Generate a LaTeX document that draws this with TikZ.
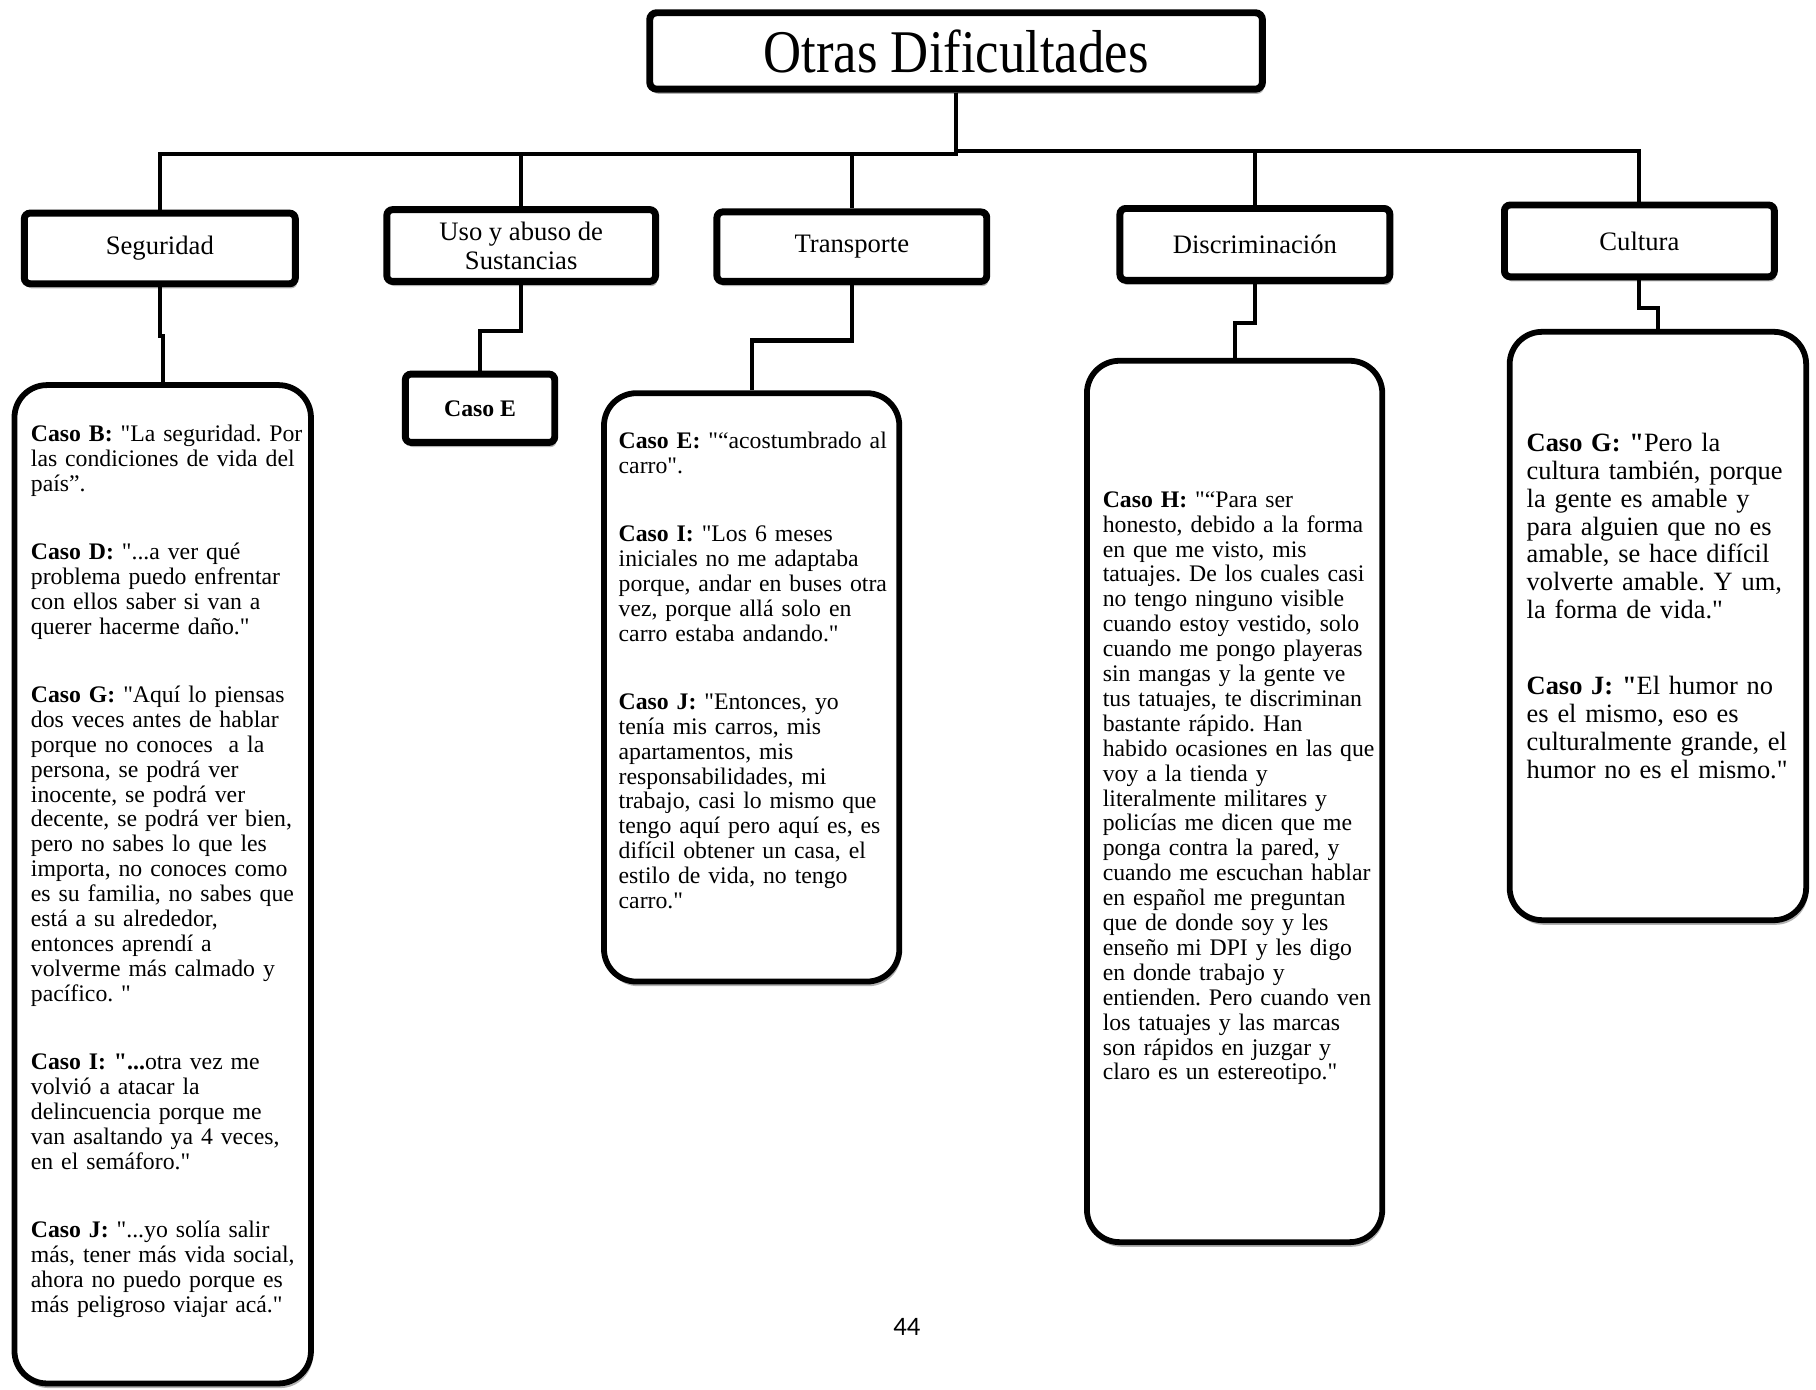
\documentclass[tikz,border=0pt]{standalone}
\usepackage{fontspec}
\usepackage{graphicx}
\setmainfont{Liberation Serif}[Ligatures=TeXOff]
\newfontfamily\pagefont{Carlito}
\usetikzlibrary{shadows}
\frenchspacing
\begin{document}
\begin{tikzpicture}[x=1pt,y=-1pt,
  shad/.style={drop shadow={shadow xshift=1.5pt, shadow yshift=-4pt, opacity=0.3, fill=black}},
  titlebox/.style={draw, line width=6pt, rounded corners=6pt, fill=white, shad, inner sep=0pt,
    font=\fontsize{45.5}{50}\selectfont},
  catbox/.style={draw, line width=6pt, rounded corners=5pt, fill=white, shad, inner sep=0pt,
    align=center, font=\fontsize{23}{25}\selectfont},
  quotebox/.style={draw, line width=5pt, rounded corners=28pt, fill=white, shad, inner sep=0pt},
  qtext/.style={inner sep=0pt, anchor=base west, text width=245pt, align=left,
    font=\fontsize{20.5}{21.5}\selectfont},
  ctext/.style={inner sep=0pt, anchor=base west, text width=245pt, align=left,
    font=\fontsize{22.8}{24}\selectfont},
  conn/.style={line width=3.5pt}
]
\useasboundingbox (0,0) rectangle (1568,1200);
\fill[white] (0,0) rectangle (1568,1200);

% title
\node[titlebox, minimum width=529pt, minimum height=66pt] (top) at (825.5,44) {\scalebox{1}[1.15]{Otras Dificultades}};

% categories
\node[catbox, minimum width=234pt, minimum height=61pt] (seg) at (138,214.5) {Seguridad};
\node[catbox, minimum width=232pt, minimum height=62pt] (uso) at (450,212) {Uso y abuso de\\Sustancias};
\node[catbox, minimum width=233pt, minimum height=60pt] (tra) at (735.5,213) {Transporte};
\node[catbox, minimum width=233pt, minimum height=62pt] (dis) at (1083.5,211) {Discriminación};
\node[catbox, minimum width=233pt, minimum height=62pt] (cul) at (1415.5,208) {Cultura};

% connectors top -> categories
\draw[conn] (top.south) -- ++(0,53) -| (seg.north);
\draw[conn] (top.south) -- ++(0,53) -| (uso.north);
\draw[conn] (top.south) -- ++(0,53) -| (tra.north);
\draw[conn] (top.south) -- ++(0,50) -| (dis.north);
\draw[conn] (top.south) -- ++(0,50) -| (cul.north);

% lower boxes
\node[catbox, minimum width=129pt, minimum height=59pt, font=\bfseries\fontsize{20.5}{22}\selectfont] (casoe) at (414.5,352.5) {Caso E};
\node[quotebox, minimum width=256pt, minimum height=862pt] (segq) at (140.5,763.5) {};
\node[quotebox, minimum width=255pt, minimum height=508pt] (traq) at (649,593.5) {};
\node[quotebox, minimum width=255pt, minimum height=761pt] (disq) at (1066,692) {};
\node[quotebox, minimum width=256pt, minimum height=508pt] (culq) at (1431.5,540.5) {};

% connectors categories -> lower boxes
\draw[conn] (seg.south) -- ++(0,42) -| (segq.north);
\draw[conn] (uso.south) -- ++(0,40) -| (casoe.north);
\draw[conn] (tra.south) -- ++(0,48) -| (traq.north);
\draw[conn] (dis.south) -- ++(0,34) -| (disq.north);
\draw[conn] (cul.south) -- ++(0,24) -| (culq.north);

% texts
\node[qtext] (segt) at (26.5,381) {\textbf{Caso B:} "La seguridad. Por\\
las condiciones de vida del\\
país”.\\[37.5pt]
\textbf{Caso D:} "...a ver qué\\
problema puedo enfrentar\\
con ellos saber si van a\\
querer hacerme daño."\\[37.5pt]
\textbf{Caso G:} "Aquí lo piensas\\
dos veces antes de hablar\\
porque no conoces\ \ a la\\
persona, se podrá ver\\
inocente, se podrá ver\\
decente, se podrá ver bien,\\
pero no sabes lo que les\\
importa, no conoces como\\
es su familia, no sabes que\\
está a su alrededor,\\
entonces aprendí a\\
volverme más calmado y\\
pacífico. "\\[37.5pt]
\textbf{Caso I: "...}otra vez me\\
volvió a atacar la\\
delincuencia porque me\\
van asaltando ya 4 veces,\\
en el semáforo."\\[37.5pt]
\textbf{Caso J:} "...yo solía salir\\
más, tener más vida social,\\
ahora no puedo porque es\\
más peligroso viajar acá."};

\node[qtext] (trat) at (534,387) {\textbf{Caso E:} "“acostumbrado al\\
carro".\\[37.5pt]
\textbf{Caso I:} "Los 6 meses\\
iniciales no me adaptaba\\
porque, andar en buses otra\\
vez, porque allá solo en\\
carro estaba andando."\\[37.5pt]
\textbf{Caso J:} "Entonces, yo\\
tenía mis carros, mis\\
apartamentos, mis\\
responsabilidades, mi\\
trabajo, casi lo mismo que\\
tengo aquí pero aquí es, es\\
difícil obtener un casa, el\\
estilo de vida, no tengo\\
carro."};

\node[qtext] (dist) at (952,438) {\textbf{Caso H:} "“Para ser\\
honesto, debido a la forma\\
en que me visto, mis\\
tatuajes. De los cuales casi\\
no tengo ninguno visible\\
cuando estoy vestido, solo\\
cuando me pongo playeras\\
sin mangas y la gente ve\\
tus tatuajes, te discriminan\\
bastante rápido. Han\\
habido ocasiones en las que\\
voy a la tienda y\\
literalmente militares y\\
policías me dicen que me\\
ponga contra la pared, y\\
cuando me escuchan hablar\\
en español me preguntan\\
que de donde soy y les\\
enseño mi DPI y les digo\\
en donde trabajo y\\
entienden. Pero cuando ven\\
los tatuajes y las marcas\\
son rápidos en juzgar y\\
claro es un estereotipo."};

\node[ctext] (cult) at (1318,390) {\textbf{Caso G: "}Pero la\\
cultura también, porque\\
la gente es amable y\\
para alguien que no es\\
amable, se hace difícil\\
volverte amable. Y um,\\
la forma de vida."\\[42pt]
\textbf{Caso J: "}El humor no\\
es el mismo, eso es\\
culturalmente grande, el\\
humor no es el mismo."};

\node[font=\pagefont\fontsize{23}{23}\selectfont, inner sep=0pt] (pg) at (783,1146) {44};
\end{tikzpicture}
\end{document}
